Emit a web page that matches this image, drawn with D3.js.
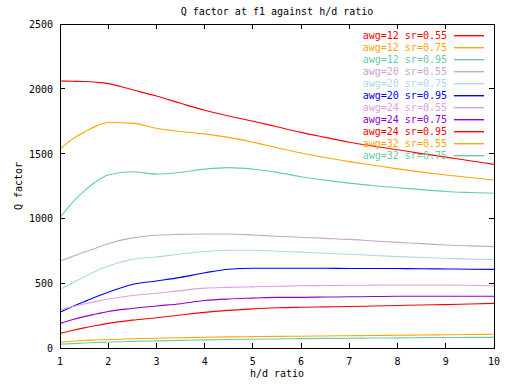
<!DOCTYPE html>
<html>
<head>
<meta charset="utf-8">
<script src="https://cdn.jsdelivr.net/npm/d3@7.9.0/dist/d3.min.js"></script>
<style>
  body { margin: 0; background: #fff; }
  svg text { font-family: "DejaVu Sans Mono", monospace; font-size: 10px; fill: #000; }
</style>
</head>
<body>
<svg width="512" height="384"></svg>
<script>
// h/d ratio sample points
const hd = [1, 1.25, 1.5, 1.75, 2, 2.5, 3, 3.5, 4, 4.5, 5, 5.5, 6, 6.5, 7, 7.5, 8, 8.5, 9, 9.5, 10];

// Q factor values
const awg12_055 = [2060, 2058, 2056, 2050, 2040, 1992, 1944, 1888, 1834, 1790, 1750, 1707, 1664, 1625, 1587, 1558, 1530, 1500, 1473, 1445, 1417];
const awg12_075 = [1535, 1610, 1665, 1712, 1740, 1735, 1695, 1670, 1652, 1625, 1588, 1545, 1505, 1470, 1438, 1410, 1382, 1357, 1335, 1315, 1296];
const awg12_095 = [1005, 1120, 1210, 1285, 1335, 1360, 1342, 1355, 1380, 1392, 1380, 1355, 1322, 1295, 1272, 1252, 1237, 1222, 1208, 1200, 1194];
const awg20_055 = [671, 705, 740, 772, 805, 850, 870, 877, 880, 880, 872, 862, 854, 846, 838, 826, 815, 805, 795, 788, 782];
const awg20_075 = [452, 500, 548, 595, 632, 684, 702, 725, 745, 754, 754, 747, 740, 731, 723, 714, 705, 698, 692, 686, 682];
const awg20_095 = [275, 318, 357, 395, 430, 490, 517, 545, 580, 608, 615, 615, 615, 615, 614, 614, 613, 612, 610, 608, 607];
const awg24_055 = [293, 318, 340, 360, 378, 405, 422, 443, 462, 468, 472, 476, 480, 482, 484, 485, 486, 486, 486, 484, 478];
const awg24_075 = [190, 218, 242, 262, 282, 305, 324, 342, 366, 378, 385, 391, 391, 393, 395, 397, 399, 399, 399, 399, 399];
const awg24_095 = [113, 135, 155, 173, 190, 215, 234, 255, 275, 290, 302, 310, 314, 317, 320, 324, 328, 332, 335, 340, 344];
const awg32_055 = [44, 52, 58, 62, 66, 71, 75, 79, 83, 86, 88, 90, 91, 93, 95, 97, 98, 100, 102, 104, 106];
const awg32_075 = [29, 34, 38, 42, 46, 51, 55, 59, 63, 66, 68, 70, 72, 74, 75, 77, 78, 80, 81, 82, 82];

const labels = ["awg=12 sr=0.55", "awg=12 sr=0.75", "awg=12 sr=0.95", "awg=20 sr=0.55", "awg=20 sr=0.75",
  "awg=20 sr=0.95", "awg=24 sr=0.55", "awg=24 sr=0.75", "awg=24 sr=0.95", "awg=32 sr=0.55", "awg=32 sr=0.75"];
const colors = ["#ff0000", "#ffa500", "#66cdaa", "#c9a6cc", "#add8e6", "#0000ff", "#dda0dd", "#9400d3", "#ff0000", "#ffa500", "#66cdaa"];
const xTicks = [1, 2, 3, 4, 5, 6, 7, 8, 9, 10];
const yTicks = [0, 500, 1000, 1500, 2000, 2500];

const series = [awg12_055, awg12_075, awg12_095, awg20_055, awg20_075, awg20_095,
  awg24_055, awg24_075, awg24_095, awg32_055, awg32_075];

const plotL = 60, plotR = 494, plotT = 24, plotB = 348;
const svg = d3.select("svg");

const x = d3.scaleLinear().domain([1, 10]).range([plotL, plotR]);
const y = d3.scaleLinear().domain([0, 2500]).range([plotB, plotT]);

// ticks (inward, mirrored) and labels
const ax = svg.append("g").attr("shape-rendering", "crispEdges").attr("stroke", "#000");
xTicks.forEach(t => {
  ax.append("line").attr("x1", x(t)).attr("x2", x(t)).attr("y1", plotB).attr("y2", plotB - 5);
  ax.append("line").attr("x1", x(t)).attr("x2", x(t)).attr("y1", plotT).attr("y2", plotT + 5);
});
yTicks.forEach(t => {
  ax.append("line").attr("x1", plotL).attr("x2", plotL + 5).attr("y1", y(t)).attr("y2", y(t));
  ax.append("line").attr("x1", plotR).attr("x2", plotR - 5).attr("y1", y(t)).attr("y2", y(t));
});

svg.selectAll(".xl").data(xTicks).enter().append("text")
  .attr("x", d => x(d)).attr("y", 365).attr("text-anchor", "middle").text(d => d);
svg.selectAll(".yl").data(yTicks).enter().append("text")
  .attr("x", 53).attr("y", d => y(d) + 4).attr("text-anchor", "end").text(d => d);

// series lines
const line = d3.line().x((d, i) => x(hd[i])).y(d => y(d)).curve(d3.curveMonotoneX);
series.forEach((s, i) => {
  svg.append("path").attr("d", line(s)).style("fill", "none")
    .style("stroke", colors[i]).style("stroke-width", 1.1);
});

// legend
const legend = svg.append("g").attr("class", "legend");
labels.forEach((l, i) => {
  const ly = 35 + i * 12;
  legend.append("text").attr("x", 447).attr("y", ly + 4).attr("text-anchor", "end")
    .style("fill", colors[i]).text(l);
  legend.append("rect").attr("x", 454).attr("y", ly).attr("width", 30).attr("height", 1.4)
    .style("fill", colors[i]);
});

// border
svg.append("rect").attr("x", plotL).attr("y", plotT).attr("width", plotR - plotL).attr("height", plotB - plotT)
  .attr("fill", "none").attr("stroke", "#000").attr("shape-rendering", "crispEdges");

svg.append("text").attr("x", 277).attr("y", 15).attr("text-anchor", "middle").text("Q factor at f1 against h/d ratio");
svg.append("text").attr("x", 277).attr("y", 377).attr("text-anchor", "middle").text("h/d ratio");
svg.append("text").attr("transform", "translate(22,186) rotate(-90)").attr("text-anchor", "middle").text("Q factor");
</script>
</body>
</html>
